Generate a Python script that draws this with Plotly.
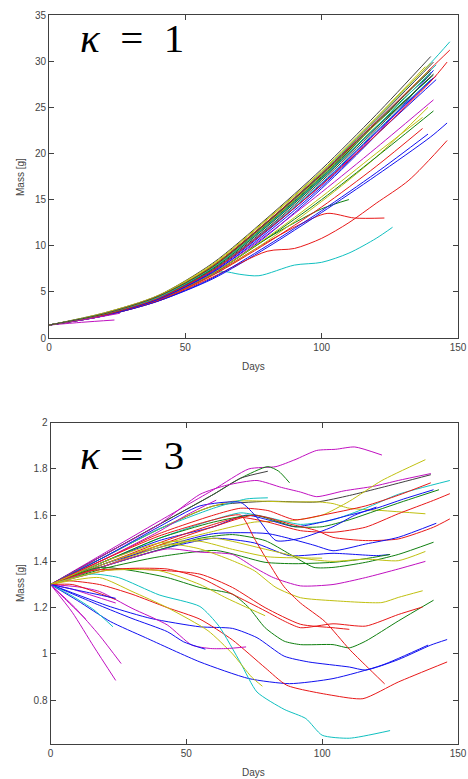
import plotly.graph_objects as go

# ---------------- data: kappa = 1 (days, mass [g]) ----------------
K1_DAYS = [
    [0, 20, 40, 60, 80, 100, 120, 141],
    [0, 20, 40, 60, 80, 100, 110],
    [0, 20, 40, 60, 80, 92, 102, 112, 123],
    [0, 20, 40, 60, 64, 70, 77, 90, 100, 110, 120, 126],
    [0, 12, 24],
    [0, 20, 40, 60, 80, 100, 120, 139],
    [0, 20, 40, 60, 80, 100, 120, 140],
    [0, 20, 40, 60, 80, 100, 120, 140, 146],
    [0, 20, 40, 60, 80, 100, 120, 141],
    [0, 20, 40, 60, 80, 90, 100, 110, 120, 132, 146],
    [0, 20, 40, 60, 80, 100, 120, 140, 147],
    [0, 20, 40, 60, 80, 100, 120, 141],
    [0, 20, 40, 60, 80, 100, 120, 137],
    [0, 20, 40, 60, 80, 100, 120, 140],
    [0, 20, 40, 60, 80, 100, 120, 139],
    [0, 20, 40, 60, 80, 100, 120, 140],
    [0, 20, 40, 60, 80, 100, 120, 137],
    [0, 20, 40, 60, 80, 100, 120, 142],
    [0, 20, 40, 60, 80, 100, 120, 140],
    [0, 20, 40, 60, 80, 100, 120, 138],
    [0, 20, 40, 60, 80, 100, 120, 141],
    [0, 20, 40, 60, 80, 100, 120, 142],
    [0, 20, 40, 60, 80, 100, 120, 141],
    [0, 20, 40, 60, 80, 100, 120, 140, 147],
    [0, 20, 40, 60, 80, 100, 120, 140],
    [0, 20, 40, 60, 80, 100, 120, 142],
    [0, 20, 40, 60, 80, 100, 120, 140],
    [0, 20, 40, 60, 80, 100, 120, 141],
    [0, 20, 40, 60, 80, 100, 120, 141],
    [0, 20, 40, 60, 80, 100, 120, 139],
    [0, 20, 40, 60, 80, 100, 120, 140, 146],
    [0, 20, 40, 60, 80, 100, 120, 140],
    [0, 13, 26],
    [0, 20, 40, 60, 80, 100, 120, 139],
    [0, 20, 40, 60, 80, 100, 120, 140],
]
K1_MASS = [
    [1.4, 2.4, 4.1, 6.9, 11.1, 16.2, 22.0, 29.0],
    [1.4, 2.5, 4.2, 7.0, 10.8, 14.0, 15.0],
    [1.4, 2.5, 4.1, 6.9, 10.4, 12.3, 13.5, 13.0, 13.0],
    [1.4, 2.4, 4.1, 6.9, 7.2, 6.9, 6.75, 7.9, 8.2, 9.2, 10.8, 12.0],
    [1.4, 1.7, 1.95],
    [1.4, 2.4, 4.1, 6.8, 10.5, 14.8, 19.6, 25.0],
    [1.4, 2.7, 4.6, 8.1, 13.0, 18.3, 24.2, 30.5],
    [1.4, 2.4, 4.0, 6.4, 9.8, 13.6, 17.6, 21.8, 23.3],
    [1.4, 2.5, 4.2, 7.0, 10.8, 15.0, 19.6, 24.6],
    [1.4, 2.4, 4.0, 6.6, 9.4, 9.7, 10.8, 12.5, 14.6, 17.1, 21.4],
    [1.4, 2.6, 4.5, 7.8, 12.6, 17.9, 23.8, 29.8, 32.1],
    [1.4, 2.5, 4.2, 7.1, 11.2, 15.8, 20.6, 25.8],
    [1.4, 2.5, 4.2, 7.0, 10.9, 15.3, 20.0, 23.9],
    [1.4, 2.6, 4.4, 7.6, 12.3, 17.4, 23.2, 29.2],
    [1.4, 2.4, 4.0, 6.5, 10.0, 13.8, 17.9, 22.1],
    [1.4, 2.6, 4.5, 7.7, 12.4, 17.5, 23.2, 28.6],
    [1.4, 2.5, 4.1, 6.8, 10.3, 14.2, 18.6, 22.7],
    [1.4, 2.6, 4.5, 7.8, 12.5, 17.6, 23.4, 29.6],
    [1.4, 2.6, 4.4, 7.5, 12.1, 17.2, 22.8, 28.3],
    [1.4, 2.7, 4.6, 8.0, 12.9, 18.1, 23.9, 29.4],
    [1.4, 2.6, 4.5, 7.8, 12.6, 17.8, 23.6, 29.9],
    [1.4, 2.5, 4.2, 7.1, 11.4, 16.4, 22.0, 28.0],
    [1.4, 2.6, 4.4, 7.6, 12.2, 17.3, 22.9, 28.5],
    [1.4, 2.6, 4.5, 7.8, 12.6, 17.8, 23.4, 29.2, 31.2],
    [1.4, 2.5, 4.3, 7.3, 11.8, 16.8, 22.4, 28.0],
    [1.4, 2.5, 4.3, 7.3, 11.7, 16.6, 22.2, 28.4],
    [1.4, 2.6, 4.5, 7.9, 12.8, 18.0, 23.8, 29.8],
    [1.4, 2.5, 4.3, 7.4, 11.9, 17.0, 22.6, 28.6],
    [1.4, 2.5, 4.2, 7.2, 11.6, 16.7, 22.3, 28.2],
    [1.4, 2.5, 4.4, 7.5, 12.1, 17.2, 22.8, 28.0],
    [1.4, 2.5, 4.3, 7.3, 11.7, 16.6, 22.0, 27.8, 29.9],
    [1.4, 2.6, 4.4, 7.6, 12.2, 17.3, 22.9, 28.8],
    [1.4, 2.0, 2.68],
    [1.4, 2.6, 4.5, 7.7, 12.4, 17.6, 23.2, 28.9],
    [1.4, 2.6, 4.5, 7.7, 12.5, 17.7, 23.3, 29.0],
]

# ---------------- data: kappa = 3 (days, mass [g]) ----------------
K3_DAYS = [
    [0, 20, 40, 60, 73, 83, 90, 98, 105, 112, 122],
    [0, 20, 40, 60, 70, 80, 84, 88],
    [0, 20, 40, 60, 70, 80],
    [0, 20, 40, 55, 65, 76, 85, 92, 98, 108, 119, 128, 140],
    [0, 20, 40, 60, 80, 98, 110, 122, 140],
    [0, 20, 40, 60, 75, 88, 100, 110, 122, 138],
    [0, 20, 40, 55, 67, 88, 99, 104, 110, 122, 138],
    [0, 20, 40, 60, 70, 80, 92, 104, 116, 128, 147],
    [0, 20, 40, 60, 72, 80],
    [0, 20, 40, 60, 70, 80, 90, 100, 116, 128, 140],
    [0, 20, 40, 60, 72, 80, 90, 100, 110, 120, 130, 141],
    [0, 20, 40, 60, 75, 90, 100, 110, 120, 130, 143],
    [0, 20, 40, 60, 70, 80, 92, 104, 116, 128, 141, 147],
    [0, 20, 40, 60, 75, 88, 98, 104, 116, 128, 141, 147],
    [0, 20, 40, 60, 80, 97, 104, 116, 128, 142],
    [0, 20, 40, 55, 70, 76, 83, 92, 104, 112, 120],
    [0, 20, 40, 50, 61],
    [0, 20, 40, 60, 75, 88, 104, 120, 125],
    [0, 20, 40, 55, 67, 79, 88, 97, 104, 116, 128, 141],
    [0, 20, 40, 61, 79, 90, 104, 115, 125],
    [0, 20, 40, 60, 80, 95, 104, 116, 128, 138],
    [0, 20, 43, 55, 67, 75, 82, 92, 104, 116, 128, 138],
    [0, 20, 43, 55, 67, 75, 83, 92, 104, 122, 128, 137],
    [0, 18, 30, 43, 55, 67, 73, 79, 86, 92, 104, 110, 116, 128, 141],
    [0, 20, 30, 43, 55, 67, 79, 86, 92, 104, 116, 128, 137],
    [0, 15, 30, 55, 67, 79, 92, 104, 110],
    [0, 20, 40, 60, 70, 75, 80, 86, 92, 101, 110, 116, 123],
    [0, 22, 37, 55, 67, 76, 86, 95, 110, 116, 128, 140, 146],
    [0, 10, 22, 35, 55, 73, 88, 104, 122, 139],
    [0, 6, 18, 30, 43, 55, 67, 79, 87, 104, 115, 128, 146],
    [0, 15, 25, 40, 55, 62, 70, 76, 86, 94, 100, 110, 125],
    [0, 18, 30, 43, 58, 67, 74, 78],
    [0, 20, 40, 55, 65, 79],
    [0, 10, 18, 30, 43, 52, 59, 65, 72],
    [0, 10, 18, 30, 43, 49, 57],
    [0, 8, 16, 24],
    [0, 9, 18, 26],
    [0, 8, 16, 23],
    [0, 8, 16, 24],
    [0, 8, 16, 24],
    [0, 6, 13],
    [0, 8, 16, 24],
    [0, 20, 40, 55, 67, 80, 100],
]
K3_MASS = [
    [1.3, 1.437, 1.574, 1.71, 1.80, 1.81, 1.84, 1.88, 1.885, 1.895, 1.86],
    [1.3, 1.43, 1.56, 1.69, 1.76, 1.81, 1.79, 1.74],
    [1.3, 1.43, 1.56, 1.69, 1.76, 1.79],
    [1.3, 1.43, 1.56, 1.69, 1.73, 1.75, 1.72, 1.70, 1.68, 1.705, 1.725, 1.75, 1.78],
    [1.3, 1.42, 1.54, 1.64, 1.66, 1.657, 1.685, 1.72, 1.775],
    [1.3, 1.39, 1.47, 1.53, 1.57, 1.575, 1.60, 1.66, 1.75, 1.84],
    [1.3, 1.42, 1.54, 1.62, 1.66, 1.657, 1.657, 1.65, 1.63, 1.62, 1.606],
    [1.3, 1.40, 1.50, 1.58, 1.61, 1.59, 1.56, 1.58, 1.63, 1.69, 1.75],
    [1.3, 1.42, 1.54, 1.63, 1.67, 1.675],
    [1.3, 1.41, 1.52, 1.60, 1.63, 1.62, 1.58, 1.60, 1.64, 1.686, 1.74],
    [1.3, 1.40, 1.49, 1.55, 1.60, 1.58, 1.55, 1.57, 1.60, 1.63, 1.67, 1.71],
    [1.3, 1.40, 1.50, 1.57, 1.60, 1.55, 1.55, 1.58, 1.62, 1.66, 1.71],
    [1.3, 1.39, 1.48, 1.56, 1.59, 1.57, 1.533, 1.526, 1.548, 1.606, 1.664, 1.693],
    [1.3, 1.38, 1.47, 1.55, 1.60, 1.562, 1.533, 1.504, 1.49, 1.497, 1.548, 1.584],
    [1.3, 1.39, 1.46, 1.52, 1.52, 1.47, 1.446, 1.475, 1.504, 1.565],
    [1.3, 1.42, 1.55, 1.64, 1.655, 1.59, 1.49, 1.50, 1.55, 1.60, 1.635],
    [1.3, 1.41, 1.53, 1.60, 1.665],
    [1.3, 1.38, 1.45, 1.50, 1.48, 1.425, 1.435, 1.425, 1.43],
    [1.3, 1.38, 1.45, 1.50, 1.516, 1.49, 1.432, 1.374, 1.374, 1.396, 1.43, 1.483],
    [1.3, 1.37, 1.42, 1.447, 1.396, 1.39, 1.396, 1.41, 1.43],
    [1.3, 1.38, 1.46, 1.50, 1.45, 1.41, 1.40, 1.41, 1.403, 1.443],
    [1.3, 1.38, 1.454, 1.44, 1.43, 1.374, 1.33, 1.294, 1.30, 1.33, 1.367, 1.40],
    [1.3, 1.39, 1.475, 1.454, 1.403, 1.36, 1.287, 1.243, 1.23, 1.222, 1.244, 1.273],
    [1.3, 1.374, 1.36, 1.33, 1.287, 1.258, 1.2, 1.113, 1.055, 1.04, 1.04, 1.026, 1.055, 1.142, 1.232],
    [1.3, 1.36, 1.37, 1.367, 1.33, 1.258, 1.186, 1.142, 1.113, 1.13, 1.12, 1.17, 1.203],
    [1.3, 1.36, 1.367, 1.345, 1.287, 1.2, 1.128, 1.113, 1.106],
    [1.3, 1.41, 1.51, 1.58, 1.60, 1.50, 1.40, 1.29, 1.22, 1.14, 1.02, 0.95, 0.87],
    [1.3, 1.204, 1.153, 1.117, 1.11, 1.07, 0.99, 0.965, 0.943, 0.93, 0.975, 1.038, 1.062],
    [1.3, 1.23, 1.14, 1.07, 0.965, 0.893, 0.871, 0.893, 0.951, 1.038],
    [1.3, 1.316, 1.30, 1.258, 1.20, 1.15, 1.06, 0.94, 0.864, 0.82, 0.806, 0.878, 0.965],
    [1.3, 1.345, 1.33, 1.255, 1.205, 1.12, 0.96, 0.835, 0.76, 0.72, 0.648, 0.635, 0.668],
    [1.3, 1.33, 1.27, 1.20, 1.10, 1.00, 0.90, 0.86],
    [1.3, 1.36, 1.36, 1.30, 1.24, 1.165],
    [1.3, 1.29, 1.27, 1.197, 1.125, 1.038, 1.023, 1.023, 1.03],
    [1.3, 1.25, 1.21, 1.153, 1.096, 1.052, 1.02],
    [1.3, 1.18, 1.03, 0.885],
    [1.3, 1.20, 1.08, 0.958],
    [1.3, 1.25, 1.19, 1.117],
    [1.3, 1.30, 1.27, 1.235],
    [1.3, 1.28, 1.25, 1.22],
    [1.3, 1.23, 1.15],
    [1.3, 1.28, 1.26, 1.24],
    [1.3, 1.40, 1.48, 1.487, 1.452, 1.42, 1.414],
]

K1_YTICKS = [0, 5, 10, 15, 20, 25, 30, 35]
K3_YTICKS = [0.8, 1.0, 1.2, 1.4, 1.6, 1.8, 2.0]
K3_YTICKTEXT = ["0.8", "1", "1.2", "1.4", "1.6", "1.8", "2"]
X_TICKS = [0, 50, 100, 150]

# ---------------- styling ----------------
MATLAB = {
    "b": "#1010f0", "g": "#108010", "r": "#e81818", "c": "#10c0c0",
    "m": "#c010c0", "y": "#c0c010", "k": "#404040",
}
CYCLE = ["b", "g", "r", "c", "m", "y", "k"]
K3_COLORS = ["m", "g", "k", "m", "k", "y", "y", "c", "c", "r", "b", "g", "r", "r",
             "b", "b", "m", "b", "g", "g", "y", "m", "y", "g", "r", "r", "r", "b",
             "b", "r", "c", "y", "y", "m", "b", "m", "m", "c", "r", "m", "m", "b", "y"]

fig = go.Figure()
for i, (d, m) in enumerate(zip(K1_DAYS, K1_MASS)):
    fig.add_trace(go.Scatter(x=d, y=m, mode="lines", xaxis="x", yaxis="y",
                             line=dict(color=MATLAB[CYCLE[i % 7]], width=1,
                                       shape="spline", smoothing=0.8),
                             showlegend=False, hoverinfo="skip"))
for i, (d, m) in enumerate(zip(K3_DAYS, K3_MASS)):
    fig.add_trace(go.Scatter(x=d, y=m, mode="lines", xaxis="x2", yaxis="y2",
                             line=dict(color=MATLAB[K3_COLORS[i]], width=1,
                                       shape="spline", smoothing=0.6),
                             showlegend=False, hoverinfo="skip"))

W, H = 468, 779
axis_common = dict(showline=True, linecolor="#404040", linewidth=1, mirror="ticks",
                   ticks="inside", ticklen=5, tickcolor="#404040", showgrid=False,
                   zeroline=False, tickfont=dict(family="Liberation Sans, Arial", size=10,
                                                 color="#444444"),
                   automargin=False, fixedrange=True)

fig.update_layout(
    width=W, height=H, margin=dict(l=0, r=0, t=0, b=0),
    paper_bgcolor="white", plot_bgcolor="white",
    xaxis=dict(domain=[49 / W, 458 / W], range=[0, 150], tickvals=X_TICKS,
               anchor="y", **axis_common),
    yaxis=dict(domain=[1 - 338 / H, 1 - 15 / H], range=[0, 35], tickvals=K1_YTICKS,
               anchor="x", **axis_common),
    xaxis2=dict(domain=[50.5 / W, 458 / W], range=[0, 150], tickvals=X_TICKS,
                anchor="y2", **axis_common),
    yaxis2=dict(domain=[1 - 744 / H, 1 - 422.7 / H], range=[0.61, 2], tickvals=K3_YTICKS,
                ticktext=K3_YTICKTEXT, anchor="x2", **axis_common),
)

lab = dict(family="Liberation Sans, Arial", size=10, color="#444444")
kap = dict(family="Times New Roman, Liberation Serif, DejaVu Serif, serif", size=41,
           color="black")
fig.add_annotation(text="Days", x=253.5 / W, y=1 - 366 / H, xref="paper", yref="paper",
                   showarrow=False, font=lab, xanchor="center", yanchor="middle")
fig.add_annotation(text="Days", x=254 / W, y=1 - 772 / H, xref="paper", yref="paper",
                   showarrow=False, font=lab, xanchor="center", yanchor="middle")
fig.add_annotation(text="Mass [g]", x=20 / W, y=1 - 177 / H, xref="paper", yref="paper",
                   showarrow=False, font=lab, textangle=-90, xanchor="center", yanchor="middle")
fig.add_annotation(text="Mass [g]", x=20 / W, y=1 - 583 / H, xref="paper", yref="paper",
                   showarrow=False, font=lab, textangle=-90, xanchor="center", yanchor="middle")
fig.add_annotation(text="<i>κ</i>\u2002=\u20021", x=78 / W, y=1 - 38 / H, xref="paper",
                   yref="paper", showarrow=False, font=kap, xanchor="left", yanchor="middle")
fig.add_annotation(text="<i>κ</i>\u2002=\u20023", x=78 / W, y=1 - 455 / H, xref="paper",
                   yref="paper", showarrow=False, font=kap, xanchor="left", yanchor="middle")

fig.write_html("out.html")
